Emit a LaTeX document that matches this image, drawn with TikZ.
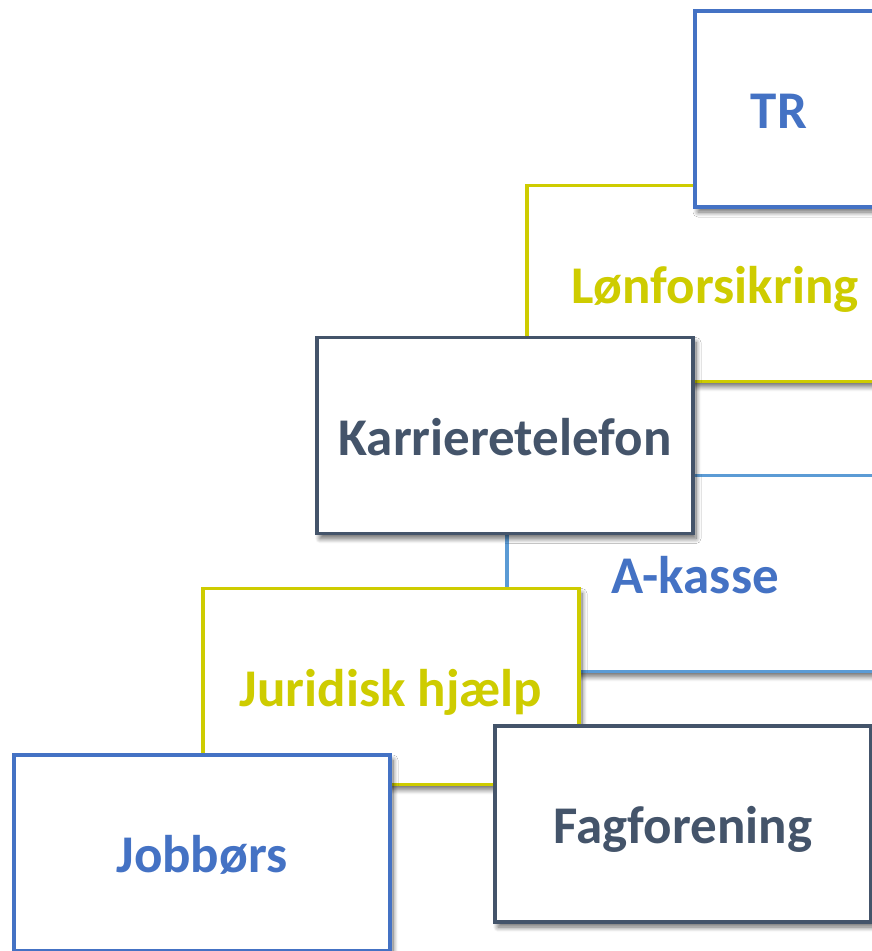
\documentclass[tikz,border=0pt]{standalone}
\usepackage{fontspec}
\setmainfont{Carlito}
\usetikzlibrary{shadows.blur}
\definecolor{kblue}{HTML}{4472C4}
\definecolor{klight}{HTML}{5B9BD5}
\definecolor{kyellow}{RGB}{206,204,0}
\definecolor{kslate}{HTML}{44546A}
\begin{document}
\begin{tikzpicture}[x=1pt,y=-1pt,line join=miter]
    \tikzset{box font/.style={font=\fontsize{53}{60}\selectfont\bfseries, text height=39pt, text depth=0pt}}
    \tikzset{box/.style={draw, fill=white, line width=3.2pt, minimum width=376pt, minimum height=196pt, inner sep=0pt, box font,
        blur shadow={shadow xshift=3pt, shadow yshift=-5pt, shadow blur radius=5pt, shadow blur steps=10, shadow opacity=60}}}
    \tikzset{blue box/.style={box, draw=kblue, text=kblue}}
    \tikzset{light box/.style={box, draw=klight, text=kblue}}
    \tikzset{yellow box/.style={box, draw=kyellow, text=kyellow}}
    \tikzset{slate box/.style={box, draw=kslate, text=kslate}}
    \useasboundingbox (0,0) rectangle (872,951);
    \clip (0,0) rectangle (872,951);
    % upper row
    \node[yellow box] (lon) at (715,283.5) {Lønforsikring};
    \node[blue box, label={[name=trtext, box font, text=kblue, xshift=-104pt]center:TR}] (tr) at (883,109) {};
    % middle
    \node[light box] (akasse) at (695,573.5) {A-kasse};
    \node[slate box] (karriere) at (505,435.5) {Karrieretelefon};
    % lower row
    \node[yellow box] (juridisk) at (391,686.5) {Juridisk hjælp};
    \node[blue box] (jobbors) at (202,853) {Jobbørs};
    \node[slate box] (fag) at (683,824) {Fagforening};
\end{tikzpicture}
\end{document}
